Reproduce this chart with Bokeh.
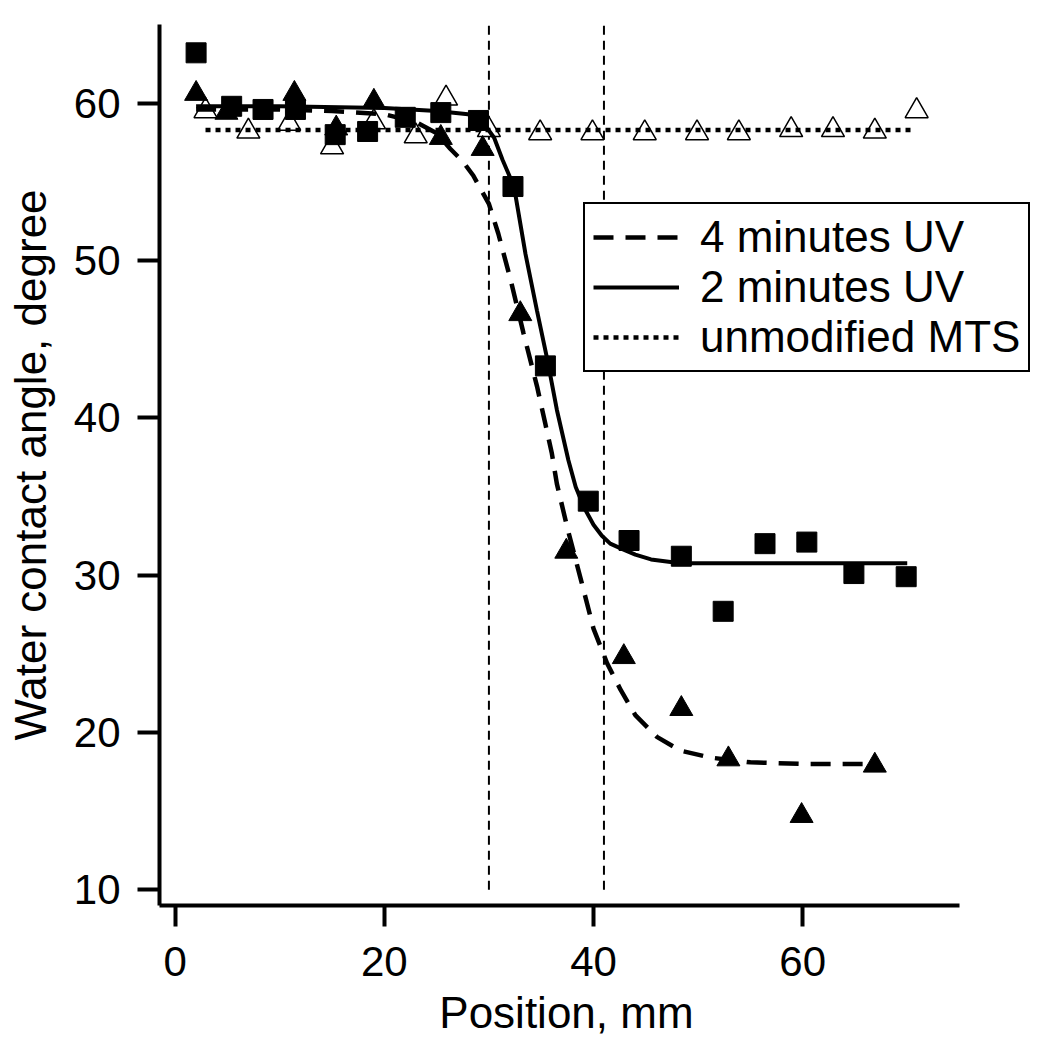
from bokeh.plotting import figure
from bokeh.models import Range1d, Legend, LegendItem, FixedTicker
from bokeh.embed import file_html
from bokeh.resources import INLINE

# ---- data ----
x_ticks = [0, 20, 40, 60]
y_ticks = [10, 20, 30, 40, 50, 60]

# 2 minutes UV (filled squares)
sq_x = [2.0, 5.4, 8.4, 11.5, 15.3, 18.4, 22.0, 25.4, 29.0, 32.3, 35.4, 39.5, 43.4, 48.4, 52.4, 56.4, 60.4, 64.9, 69.9]
sq_y = [63.2, 59.8, 59.6, 59.6, 58.0, 58.2, 59.1, 59.4, 58.9, 54.7, 43.3, 34.7, 32.2, 31.2, 27.7, 32.0, 32.1, 30.1, 29.9]

# 4 minutes UV (filled triangles)
tri_x = [2.0, 4.9, 11.4, 15.4, 19.0, 25.4, 29.4, 33.0, 37.4, 42.9, 48.4, 52.9, 59.9, 66.9]
tri_y = [60.6, 59.4, 60.6, 58.4, 60.1, 57.8, 57.1, 46.6, 31.5, 24.8, 21.5, 18.3, 14.7, 17.9]

# unmodified MTS (open triangles)
open_x = [2.9, 7.0, 10.9, 15.0, 19.0, 23.0, 25.9, 30.0, 34.9, 39.9, 44.9, 49.9, 53.9, 58.9, 62.9, 66.9, 70.9]
open_y = [59.5, 58.2, 58.7, 57.2, 58.8, 57.9, 60.3, 58.3, 58.1, 58.1, 58.1, 58.1, 58.1, 58.3, 58.3, 58.2, 59.5]

# fitted curves
fit2_x = [2, 10, 20, 25, 28, 29.4, 30.5, 31.3, 32.4, 33.5, 34.6, 35.6, 36.5, 37.6, 38.3, 39.1, 40.0, 40.8,
          41.6, 42.6, 44.0, 45.5, 48.3, 52, 60, 70]
fit2_y = [59.8, 59.8, 59.7, 59.5, 59.3, 58.8, 57.8, 56.4, 54.7, 50.4, 46.8, 43.65, 40.5, 37.3, 35.6, 34.3, 33.2, 32.5,
          32.0, 31.7, 31.3, 31.0, 30.75, 30.75, 30.75, 30.75]

fit4_x = [2, 10, 15, 20, 23, 25, 26.3, 27.5, 28.5, 30.0, 30.9, 32.1, 33.3, 34.6, 35.4, 36.0, 36.5, 37.5, 38.8,
          40.0, 41.3, 42.6, 44.0, 46.1, 48.3, 51.2, 55.0, 60.0, 66.0]
fit4_y = [59.6, 59.6, 59.5, 59.3, 58.8, 58.1, 57.1, 56.3, 55.4, 53.6, 51.7, 48.7, 45.4, 42.0, 39.6, 37.8, 35.8, 33.0, 29.7,
          26.6, 24.4, 22.7, 21.1, 19.7, 18.85, 18.4, 18.1, 18.0, 18.0]

unmod_x = [2.9, 70.6]
unmod_y = [58.3, 58.3]

vline_x = [30, 41]
vline_y0 = [10, 10]
vline_y1 = [65, 65]

FONT = "Liberation Sans"
NBSP = "\u00a0"

# x axis drawn over -1.5..75; frame extends further right so the legend fits
p = figure(frame_width=875, frame_height=881,
           x_range=Range1d(-1.5, 82.17), y_range=Range1d(9, 65),
           output_backend="svg", toolbar_location=None,
           min_border_left=159, min_border_right=2, min_border_top=24, min_border_bottom=140)
p.outline_line_color = None
p.grid.visible = False
p.background_fill_color = "white"
p.border_fill_color = "white"

for ax in (p.xaxis[0], p.yaxis[0]):
    ax.axis_line_width = 4
    ax.major_tick_line_width = 4
    ax.major_tick_in = 0
    ax.minor_tick_line_color = None
    ax.major_label_text_font = FONT
    ax.major_label_text_font_size = "42px"
    ax.major_label_text_color = "black"
    ax.axis_label_text_font = FONT
    ax.axis_label_text_font_size = "44px"
    ax.axis_label_text_font_style = "normal"
    ax.axis_label_text_color = "black"

p.xaxis.bounds = (-1.5, 75)
p.xaxis.ticker = FixedTicker(ticks=x_ticks)
p.yaxis.ticker = FixedTicker(ticks=y_ticks)
p.xaxis.major_tick_out = 21
p.yaxis.major_tick_out = 22
p.xaxis.major_label_standoff = 20
p.yaxis.major_label_standoff = 17
# trailing no-break spaces shift the centred title left, under the drawn axis span
p.xaxis.axis_label = "Position, mm" + NBSP * 5
p.yaxis.axis_label = "Water contact angle, degree"
p.xaxis.axis_label_standoff = 9
p.yaxis.axis_label_standoff = 16

# vertical dashed reference lines
p.segment(x0=vline_x, x1=vline_x, y0=vline_y0, y1=vline_y1,
          line_color="black", line_width=2, line_dash="9 6")

# open triangles under the lines
p.scatter(open_x, open_y, marker="triangle", size=23, fill_color="white",
          line_color="black", line_width=1.5)

r_unmod = p.line(unmod_x, unmod_y, line_color="black", line_width=4.5, line_dash="5 5")
r4 = p.line(fit4_x, fit4_y, line_color="black", line_width=4.5, line_dash="20 12")
r2 = p.line(fit2_x, fit2_y, line_color="black", line_width=4)

p.scatter(tri_x, tri_y, marker="triangle", size=23, fill_color="black", line_color="black")
p.scatter(sq_x, sq_y, marker="square", size=20, fill_color="black", line_color="black")

legend = Legend(items=[
    LegendItem(label="4 minutes UV", renderers=[r4]),
    LegendItem(label="2 minutes UV", renderers=[r2]),
    LegendItem(label="unmodified MTS", renderers=[r_unmod]),
], location=(424, 533))
legend.label_text_font = FONT
legend.label_text_font_size = "44px"
legend.label_text_color = "black"
legend.glyph_width = 86
legend.glyph_height = 50
legend.label_height = 50
legend.label_standoff = 21
legend.spacing = 0
legend.padding = 8
legend.margin = 0
legend.border_line_color = "black"
legend.border_line_alpha = 1.0
legend.border_line_width = 2
legend.background_fill_color = "white"
legend.background_fill_alpha = 1.0
p.add_layout(legend, "center")

open("out.html", "w").write(file_html(p, INLINE))
